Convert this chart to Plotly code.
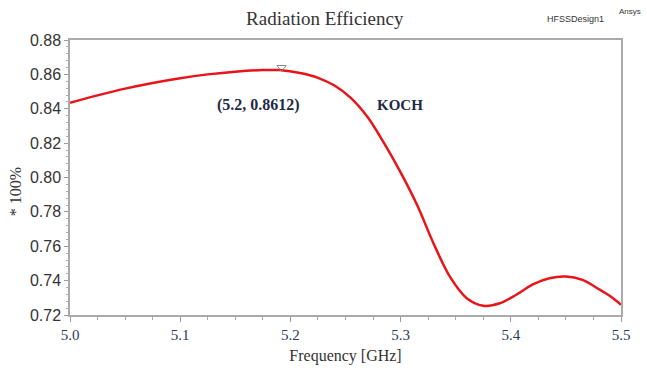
import plotly.graph_objects as go

# Data
freq = [5.0, 5.025, 5.05, 5.075, 5.10, 5.125, 5.15, 5.175, 5.19, 5.21, 5.225,
        5.24, 5.255, 5.27, 5.285, 5.30, 5.315, 5.33, 5.345, 5.36, 5.375, 5.39,
        5.405, 5.42, 5.435, 5.45, 5.465, 5.48, 5.49, 5.5]
eff = [0.8435, 0.8478, 0.8517, 0.8550, 0.8578, 0.8600, 0.8616, 0.8625, 0.8625,
       0.8606, 0.8580, 0.8535, 0.8462, 0.8352, 0.8200, 0.8030, 0.7840, 0.7615,
       0.7420, 0.7298, 0.7254, 0.7268, 0.7318, 0.7378, 0.7414, 0.7424, 0.7404,
       0.7350, 0.7310, 0.7260]
marker_x = [5.192]
marker_y = [0.8640]
marker_label = "(5.2, 0.8612)"
series_label = "KOCH"
y_ticks = [0.72, 0.74, 0.76, 0.78, 0.80, 0.82, 0.84, 0.86, 0.88]
x_ticks = [5.0, 5.1, 5.2, 5.3, 5.4, 5.5]

serif = "Liberation Serif, DejaVu Serif, serif"
narrow = "Liberation Sans Narrow, Liberation Sans, Arial, sans-serif"

fig = go.Figure()
fig.add_trace(go.Scatter(
    x=freq, y=eff, mode="lines",
    line=dict(color="#e8141a", width=2.5, shape="spline", smoothing=1.0),
    showlegend=False, hoverinfo="skip"))
fig.add_trace(go.Scatter(
    x=marker_x, y=marker_y, mode="markers",
    marker=dict(symbol="triangle-down-open", size=8, color="#888888",
                line=dict(width=1)),
    showlegend=False))

fig.update_layout(
    width=647, height=380,
    margin=dict(l=70, r=26, t=40, b=65),
    paper_bgcolor="white", plot_bgcolor="white",
    title=dict(text="Radiation Efficiency", x=0.502, xanchor="center",
               y=0.953, yanchor="middle",
               font=dict(family=serif, size=19, color="#333333")),
    xaxis=dict(range=[5.0, 5.5], tickvals=x_ticks,
               ticktext=["5.0", "5.1", "5.2", "5.3", "5.4", "5.5"],
               showgrid=False, zeroline=False, showline=True,
               linecolor="#aaaaaa", linewidth=1.5, mirror=True,
               ticks="outside", ticklen=5, tickcolor="#999999",
               minor=dict(dtick=0.025, ticks="outside", ticklen=3,
                          tickcolor="#aaaaaa"),
               tickfont=dict(family=serif, size=15, color="#2b3a55"),
               title=dict(text="Frequency [GHz]", standoff=8,
                          font=dict(family=serif, size=16, color="#333333"))),
    yaxis=dict(range=[0.72, 0.88], tickvals=y_ticks,
               ticktext=[f"{v:.2f}" for v in y_ticks],
               showgrid=False, zeroline=False, showline=True,
               linecolor="#aaaaaa", linewidth=1.5, mirror=True,
               ticks="outside", ticklen=4, tickcolor="#999999",
               minor=dict(dtick=0.004, ticks="outside", ticklen=2,
                          tickcolor="#aaaaaa"),
               tickfont=dict(family=narrow, size=16, color="#333333")),
    annotations=[
        dict(x=5.1715, y=0.8422, xref="x", yref="y", text="<b>" + marker_label + "</b>",
             showarrow=False, font=dict(family=serif, size=16, color="#1f2a44")),
        dict(x=5.299, y=0.8422, xref="x", yref="y", text="<b>" + series_label + "</b>",
             showarrow=False, font=dict(family=serif, size=15, color="#1f2a44")),
        dict(x=-0.1, y=0.45, xref="paper", yref="paper", text="* 100%",
             textangle=-90, showarrow=False, xanchor="center", yanchor="middle",
             font=dict(family=serif, size=16, color="#333333")),
        dict(x=0.917, y=1.078, xref="paper", yref="paper", text="HFSSDesign1",
             showarrow=False, xanchor="center", yanchor="middle",
             font=dict(family=narrow, size=9, color="#333333")),
        dict(x=1.017, y=1.103, xref="paper", yref="paper", text="Ansys",
             showarrow=False, xanchor="center", yanchor="middle",
             font=dict(family=narrow, size=8, color="#333333")),
    ],
)

fig.write_html("out.html")
